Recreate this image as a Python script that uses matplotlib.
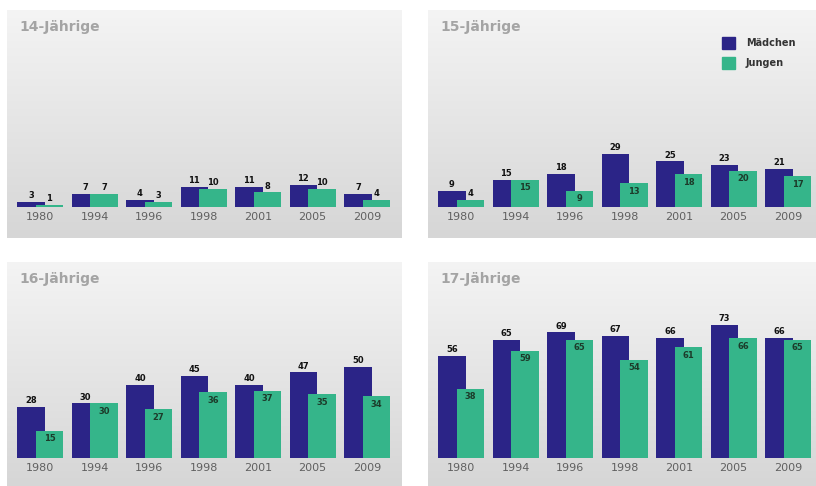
import matplotlib.pyplot as plt
import numpy as np

# Data
years = ["1980", "1994", "1996", "1998", "2001", "2005", "2009"]
titles = ["14-Jährige", "15-Jährige", "16-Jährige", "17-Jährige"]

maedchen_14 = [3, 7, 4, 11, 11, 12, 7]
jungen_14 = [1, 7, 3, 10, 8, 10, 4]
maedchen_15 = [9, 15, 18, 29, 25, 23, 21]
jungen_15 = [4, 15, 9, 13, 18, 20, 17]
maedchen_16 = [28, 30, 40, 45, 40, 47, 50]
jungen_16 = [15, 30, 27, 36, 37, 35, 34]
maedchen_17 = [56, 65, 69, 67, 66, 73, 66]
jungen_17 = [38, 59, 65, 54, 61, 66, 65]

panels = [
    (maedchen_14, jungen_14),
    (maedchen_15, jungen_15),
    (maedchen_16, jungen_16),
    (maedchen_17, jungen_17),
]

BLUE = "#2b2487"
GREEN = "#35b58a"
W, H = 816, 486

# panel rectangles in pixels: left, top, right, bottom, baseline
rects = [
    (7, 10, 402, 238, 207),
    (428, 10, 816, 238, 207),
    (7, 262, 402, 486, 458),
    (428, 262, 816, 486, 458),
]
px_per_unit = 1.82
pitch = 54.5

fig = plt.figure(figsize=(W / 100, H / 100), dpi=100)
fig.patch.set_facecolor("white")

grad = np.linspace(0, 1, 256).reshape(-1, 1)

for k, ((l, t, r, b, base), (m, j)) in enumerate(zip(rects, panels)):
    ax = fig.add_axes([l / W, 1 - b / H, (r - l) / W, (b - t) / H])
    x0 = -0.425 - 10 / pitch
    x1 = x0 + (r - l) / pitch
    y0 = -(b - base) / px_per_unit
    y1 = (base - t) / px_per_unit
    ax.set_xlim(x0, x1)
    ax.set_ylim(y0, y1)
    ax.axis("off")

    # gray gradient background
    ax.imshow(grad, extent=[x0, x1, y0, y1], aspect="auto",
              cmap=plt.matplotlib.colors.LinearSegmentedColormap.from_list(
                  "bg", ["#f4f4f4", "#d6d6d6"]),
              origin="upper", zorder=0)

    x = np.arange(len(years))
    ax.bar(x - 0.17, m, width=0.51, color=BLUE, zorder=2)
    ax.bar(x + 0.17, j, width=0.51, color=GREEN, zorder=3)

    for i in range(len(years)):
        ax.text(x[i] - 0.17, m[i] + 1.0, str(m[i]), ha="center", va="bottom",
                fontsize=6, fontweight="bold", color="#111111", zorder=4)
        if k == 0 or j[i] < 6:
            ax.text(x[i] + 0.17, j[i] + 1.0, str(j[i]), ha="center", va="bottom",
                    fontsize=6, fontweight="bold", color="#111111", zorder=4)
        else:
            ax.text(x[i] + 0.17, j[i] - 2.0, str(j[i]), ha="center", va="top",
                    fontsize=6, fontweight="bold", color="#1c3b2a", zorder=4)
        ax.text(x[i], -3.0, years[i], ha="center", va="top",
                fontsize=8, color="#606060", zorder=4)

    ax.text(x0 + 12 / pitch, y1 - 10 / px_per_unit, titles[k], ha="left", va="top",
            fontsize=10, fontweight="bold", color="#a4a4a4")

    if k == 1:
        lx = x0 + 294 / pitch
        for n, (lab, col) in enumerate([("Mädchen", BLUE), ("Jungen", GREEN)]):
            yc = y1 - (33 + n * 20) / px_per_unit
            ax.add_patch(plt.Rectangle((lx, yc - 6 / px_per_unit), 13 / pitch,
                                       12 / px_per_unit, color=col, zorder=4))
            ax.text(lx + 24 / pitch, yc, lab, ha="left", va="center",
                    fontsize=7, fontweight="bold", color="#333333", zorder=4)

plt.savefig("out.png", dpi=100)
